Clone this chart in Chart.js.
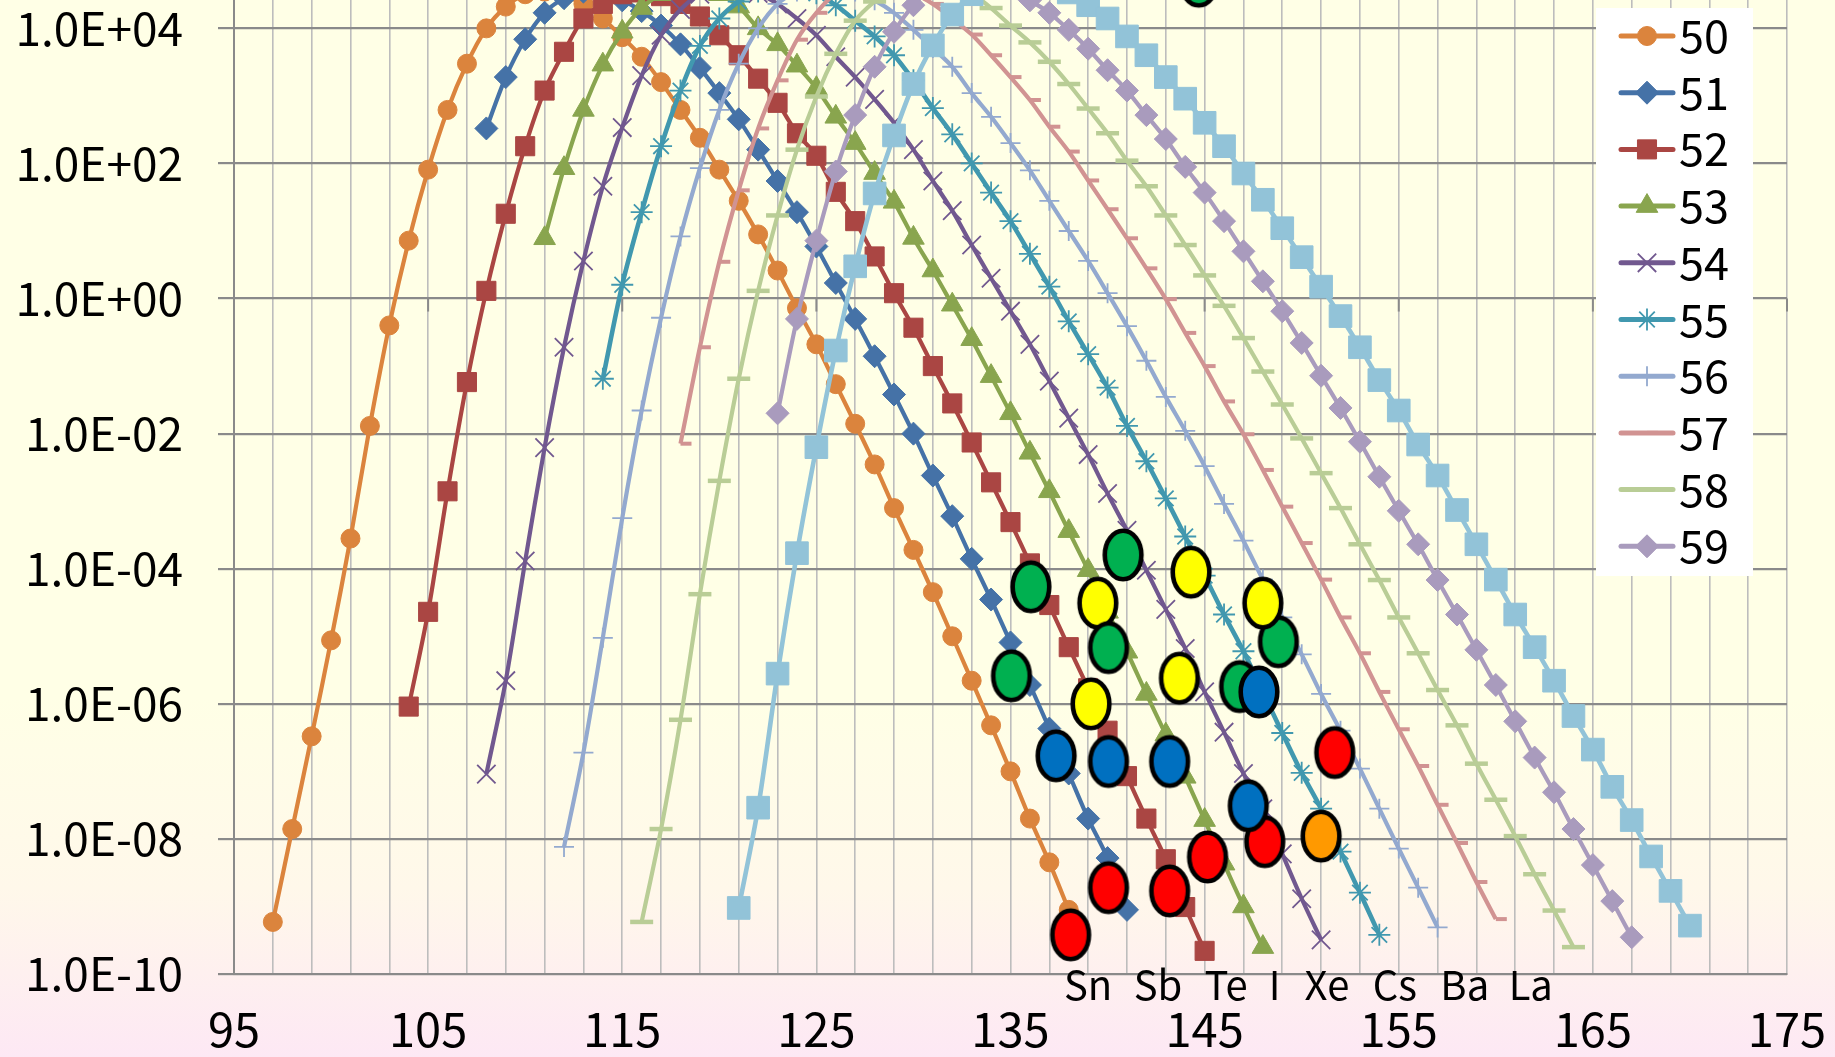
<!DOCTYPE html>
<html>
<head>
<meta charset="utf-8">
<script src="https://cdn.jsdelivr.net/npm/chart.js@4.4.1/dist/chart.umd.min.js"></script>
<style>
  html, body { margin: 0; padding: 0; }
  body {
    width: 1835px; height: 1057px; overflow: hidden;
    background: linear-gradient(to bottom, #ffffe6 0%, #ffffe6 66%, #fff8ea 84%, #fde8f4 100%);
  }
  canvas { display: block; }
</style>
</head>
<body>
<canvas id="yield-chart" width="1835" height="1057"></canvas>
<script>
// series = proton number, x = mass number, y = yield (log scale)
const seriesNames = ['50', '51', '52', '53', '54', '55', '56', '57', '58', '59', '60'];
const firstMass = [97, 108, 104, 111, 108, 114, 112, 118, 116, 123, 121];

const yieldZ50 = [5.9e-10, 1.4e-8, 3.3e-7, 8.7e-6, 2.8e-4, 1.3e-2, 0.40, 7.2, 81, 620, 3.0e3, 1.0e4, 2.1e4, 3.2e4,
  3.5e4, 3.0e4, 2.3e4, 1.4e4, 7.4e3, 3.8e3, 1.6e3, 620, 240, 81, 28, 8.9, 2.6, 0.72, 0.21, 5.4e-2, 1.4e-2, 3.5e-3,
  7.9e-4, 1.9e-4, 4.5e-5, 1.0e-5, 2.2e-6, 4.8e-7, 1.0e-7, 2.0e-8, 4.5e-9, 8.9e-10];
const yieldZ51 = [330, 1.9e3, 6.9e3, 1.7e4, 2.8e4, 3.5e4, 3.3e4, 2.6e4, 1.8e4, 1.1e4, 5.8e3, 2.6e3, 1.1e3, 450, 160,
  55, 19, 5.9, 1.7, 0.50, 0.14, 3.8e-2, 1.0e-2, 2.4e-3, 6.0e-4, 1.4e-4, 3.5e-5, 8.1e-6, 1.9e-6, 4.3e-7, 9.3e-8,
  2.0e-8, 5.2e-9, 8.9e-10];
const yieldZ52 = [9.1e-7, 2.3e-5, 1.4e-3, 5.8e-2, 1.3, 18, 180, 1.2e3, 4.5e3, 1.4e4, 2.3e4, 3.2e4, 3.4e4, 3.0e4, 2.3e4,
  1.5e4, 7.9e3, 4.0e3, 1.8e3, 790, 280, 130, 38, 14, 4.2, 1.2, 0.37, 0.10, 2.8e-2, 7.4e-3, 1.9e-3, 4.9e-4, 1.2e-4,
  2.9e-5, 6.9e-6, 1.7e-6, 4.0e-7, 8.5e-8, 2.0e-8, 5.0e-9, 9.8e-10, 2.2e-10];
const yieldZ53 = [7.8, 85, 620, 2.9e3, 8.9e3, 2.0e4, 3.2e4, 3.8e4, 3.8e4, 3.2e4, 2.1e4, 1.0e4, 5.8e3, 2.8e3, 1.3e3,
  490, 200, 72, 27, 7.9, 2.6, 0.81, 0.25, 7.1e-2, 2.0e-2, 5.2e-3, 1.4e-3, 3.6e-4, 9.5e-5, 2.3e-5, 5.9e-6, 1.4e-6,
  3.5e-7, 8.3e-8, 1.9e-8, 4.3e-9, 1.0e-9, 2.5e-10];
const yieldZ54 = [9.1e-8, 2.2e-6, 1.3e-4, 6.2e-3, 0.19, 3.6, 46, 340, 2.0e3, 7.9e3, 1.9e4, 3.2e4, 4.0e4, 4.2e4, 3.3e4,
  2.3e4, 1.4e4, 7.9e3, 3.8e3, 1.9e3, 890, 400, 160, 55, 20, 6.2, 2.0, 0.65, 0.21, 6.0e-2, 1.7e-2, 4.9e-3, 1.3e-3,
  3.7e-4, 9.5e-5, 2.5e-5, 6.6e-6, 1.5e-6, 3.8e-7, 9.3e-8, 2.8e-8, 6.0e-9, 1.3e-9, 3.2e-10];
const yieldZ55 = [6.5e-2, 1.6, 19, 180, 1.2e3, 5.5e3, 1.4e4, 2.5e4, 3.5e4, 4.2e4, 4.2e4, 3.3e4, 2.2e4, 1.3e4, 7.6e3,
  4.0e3, 1.7e3, 660, 270, 100, 37, 14, 4.6, 1.5, 0.46, 0.15, 4.8e-2, 1.3e-2, 3.9e-3, 1.1e-3, 3.0e-4, 7.9e-5, 2.1e-5,
  6.0e-6, 1.5e-6, 3.7e-7, 9.5e-8, 2.8e-8, 6.5e-9, 1.6e-9, 3.8e-10];
const yieldZ56 = [7.6e-9, 1.9e-7, 9.5e-6, 5.6e-4, 2.2e-2, 0.52, 8.3, 85, 620, 3.0e3, 1.0e4, 2.3e4, 3.5e4, 4.2e4, 4.2e4,
  3.5e4, 2.6e4, 1.7e4, 9.5e3, 5.1e3, 2.7e3, 1.1e3, 490, 200, 79, 28, 10, 3.6, 1.2, 0.39, 0.12, 3.5e-2, 1.1e-2, 3.3e-3,
  9.1e-4, 2.6e-4, 6.9e-5, 1.9e-5, 5.4e-6, 1.4e-6, 4.0e-7, 1.1e-7, 2.8e-8, 7.2e-9, 1.9e-9, 4.9e-10];
const yieldZ57 = [7.1e-3, 0.19, 3.5, 40, 330, 1.7e3, 6.8e3, 1.7e4, 3.3e4, 4.4e4, 4.7e4, 4.2e4, 3.3e4, 2.3e4, 1.4e4,
  8.1e3, 4.0e3, 1.9e3, 870, 350, 150, 56, 21, 7.8, 2.8, 0.98, 0.31, 0.10, 3.0e-2, 9.8e-3, 2.9e-3, 8.3e-4, 2.4e-4,
  6.9e-5, 1.9e-5, 5.6e-6, 1.5e-6, 4.2e-7, 1.2e-7, 3.2e-8, 8.7e-9, 2.3e-9, 6.5e-10];
const yieldZ58 = [5.9e-10, 1.4e-8, 5.8e-7, 4.2e-5, 2.0e-3, 6.5e-2, 1.3, 17, 160, 980, 4.2e3, 1.3e4, 2.5e4, 4.0e4, 5.0e4,
  5.2e4, 4.6e4, 3.3e4, 2.0e4, 1.1e4, 6.2e3, 3.2e3, 1.5e3, 650, 280, 110, 46, 17, 6.2, 2.2, 0.78, 0.26, 8.3e-2, 2.7e-2,
  8.5e-3, 2.6e-3, 7.9e-4, 2.3e-4, 6.8e-5, 1.9e-5, 5.6e-6, 1.6e-6, 4.8e-7, 1.3e-7, 3.8e-8, 1.1e-8, 3.0e-9, 8.7e-10,
  2.5e-10];
const yieldZ59 = [2.0e-2, 0.50, 7.2, 76, 520, 2.7e3, 8.9e3, 2.2e4, 4.0e4, 5.2e4, 5.8e4, 5.2e4, 4.0e4, 2.6e4, 1.7e4,
  9.5e3, 5.0e3, 2.4e3, 1.2e3, 520, 230, 89, 37, 14, 5.0, 1.8, 0.65, 0.22, 7.2e-2, 2.4e-2, 7.6e-3, 2.3e-3, 7.2e-4,
  2.3e-4, 6.8e-5, 2.1e-5, 6.3e-6, 1.9e-6, 5.5e-7, 1.6e-7, 4.9e-8, 1.4e-8, 4.1e-9, 1.2e-9, 3.5e-10];
const yieldZ60 = [9.5e-10, 2.9e-8, 2.8e-6, 1.7e-4, 6.3e-3, 0.17, 3.0, 36, 260, 1.5e3, 5.6e3, 1.6e4, 3.2e4, 5.0e4, 6.3e4,
  6.3e4, 5.0e4, 3.4e4, 2.2e4, 1.4e4, 7.6e3, 4.0e3, 1.9e3, 910, 400, 180, 71, 29, 11, 4.1, 1.5, 0.55, 0.19, 6.2e-2,
  2.2e-2, 6.9e-3, 2.4e-3, 7.4e-4, 2.3e-4, 6.9e-5, 2.1e-5, 6.9e-6, 2.2e-6, 6.6e-7, 2.1e-7, 5.9e-8, 1.9e-8, 5.5e-9,
  1.7e-9, 5.2e-10];

// coloured ellipse marks, in drawing order
const markMass  = [144.7, 140.8, 136.05, 135.05, 144.3, 139.5, 140.05, 148.8, 148.0, 146.8, 147.8, 143.7, 139.15,
  137.35, 140.05, 143.2, 148.1, 147.25, 138.1, 140.05, 143.2, 145.15, 151.7, 151.0];
const markYield = [5.0e4, 1.6e-4, 5.4e-5, 2.6e-6, 8.9e-5, 3.1e-5, 6.8e-6, 8.3e-6, 3.1e-5, 1.8e-6, 1.5e-6, 2.4e-6, 1.0e-6,
  1.7e-7, 1.4e-7, 1.4e-7, 9.1e-9, 3.1e-8, 3.8e-10, 1.9e-9, 1.7e-9, 5.4e-9, 1.9e-7, 1.1e-8];
const markColor = ['green', 'green', 'green', 'green', 'yellow', 'yellow', 'green', 'green', 'yellow', 'green', 'blue',
  'yellow', 'yellow', 'blue', 'blue', 'blue', 'red', 'blue', 'red', 'red', 'red', 'red', 'red', 'orange'];

const elementNames = ['Sn', 'Sb', 'Te', 'I', 'Xe', 'Cs', 'Ba', 'La'];
const elementMass = [139, 142.6, 146.1, 148.6, 151.3, 154.8, 158.4, 161.8];

const xLabels = [95, 105, 115, 125, 135, 145, 155, 165, 175];
const yTicks = [1e-10, 1e-8, 1e-6, 1e-4, 1e-2, 1, 1e2, 1e4];
const yTickLabels = ['1.0E-10', '1.0E-08', '1.0E-06', '1.0E-04', '1.0E-02', '1.0E+00', '1.0E+02', '1.0E+04'];

const allYields = [yieldZ50, yieldZ51, yieldZ52, yieldZ53, yieldZ54, yieldZ55, yieldZ56, yieldZ57, yieldZ58, yieldZ59, yieldZ60];

const colors = ['#db843d', '#4572a7', '#aa4643', '#89a54e', '#71588f', '#4198af', '#93a9cf', '#d19392', '#b9cd96', '#a99bbd', '#92c3d8'];
const styles = ['circle', 'rectRot', 'rect', 'triangle', 'crossRot', 'star', 'cross', 'dash', 'line', 'rectRot', 'rect'];
const radii = [9.5, 11.5, 13.5, 12.5, 13, 11, 10, 11, 11.5, 11.5, 16];
const markerLine = [1, 1, 1, 1, 1.8, 1.8, 1.8, 4, 4.5, 1, 1];
const lineWidths = [4.2, 4.2, 4.2, 4.2, 4.2, 4.6, 4.2, 4.2, 4.2, 4.2, 4.6];

const markFill = { green: '#00b050', yellow: '#ffff00', blue: '#0070c0', red: '#ff0000', orange: '#ff9900' };

const makeEllipse = fill => {
    const c = document.createElement('canvas');
    c.width = 46;
    c.height = 58;
    const g = c.getContext('2d');
    g.beginPath();
    g.ellipse(23, 29, 18.3, 24.3, 0, 0, Math.PI * 2);
    g.fillStyle = fill;
    g.fill();
    g.lineWidth = 4.6;
    g.strokeStyle = '#000';
    g.stroke();
    return c;
};
const ellipses = {};
Object.keys(markFill).forEach(k => ellipses[k] = makeEllipse(markFill[k]));

const datasets = allYields.map((arr, i) => ({
    label: seriesNames[i],
    data: arr.map((v, k) => ({ x: firstMass[i] + k, y: v })),
    borderColor: colors[i],
    backgroundColor: colors[i],
    borderWidth: lineWidths[i],
    pointStyle: styles[i],
    pointRadius: radii[i],
    pointBackgroundColor: colors[i],
    pointBorderColor: colors[i],
    pointBorderWidth: markerLine[i],
    tension: 0.3,
    order: 20 - i
}));

datasets.push({
    label: 'marks',
    data: markMass.map((m, k) => ({ x: m, y: markYield[k] })),
    showLine: false,
    pointStyle: markColor.map(c => ellipses[c]),
    pointRadius: 27,
    pointBorderWidth: 0,
    order: 0
});

// white legend box sitting inside the plot, top right
const boxLegend = {
    id: 'boxLegend',
    afterDatasetsDraw(chart, args, o) {
        const ctx = chart.ctx;
        ctx.save();
        ctx.fillStyle = '#ffffff';
        ctx.fillRect(o.left, o.top, o.width, o.height);
        chart.data.datasets.slice(0, o.count).forEach((ds, i) => {
            const y = o.top + o.firstRow + i * o.rowGap;
            ctx.strokeStyle = ds.borderColor;
            ctx.lineWidth = 5;
            ctx.lineCap = 'round';
            ctx.beginPath();
            ctx.moveTo(o.left + o.lineFrom, y);
            ctx.lineTo(o.left + o.lineTo, y);
            ctx.stroke();
            ctx.lineCap = 'butt';
            ctx.fillStyle = ds.pointBackgroundColor;
            ctx.strokeStyle = ds.pointBorderColor;
            ctx.lineWidth = ds.pointBorderWidth;
            Chart.helpers.drawPoint(ctx, {
                pointStyle: ds.pointStyle, radius: ds.pointRadius,
                borderWidth: ds.pointBorderWidth, rotation: 0
            }, o.left + (o.lineFrom + o.lineTo) / 2, y);
            ctx.fillStyle = '#000';
            ctx.font = o.font;
            ctx.textAlign = 'left';
            ctx.textBaseline = 'middle';
            ctx.fillText(ds.label, o.left + o.textX, y);
        });
        ctx.restore();
    }
};

// element symbols along the bottom + axis ticks where the x axis crosses y = 1
const extras = {
    id: 'extras',
    beforeDatasetsDraw(chart) {
        const { ctx, scales: { x, y } } = chart;
        const y1 = y.getPixelForValue(1);
        ctx.save();
        ctx.strokeStyle = '#8a8a8a';
        ctx.lineWidth = 2;
        xLabels.forEach(v => {
            const px = x.getPixelForValue(v);
            ctx.beginPath();
            ctx.moveTo(px, y1);
            ctx.lineTo(px, y1 + 13);
            ctx.stroke();
        });
        ctx.restore();
    },
    afterDraw(chart) {
        const { ctx, chartArea, scales: { x } } = chart;
        ctx.save();
        ctx.fillStyle = '#000';
        ctx.font = '40px "Noto Sans CJK JP"';
        ctx.textAlign = 'center';
        ctx.textBaseline = 'middle';
        elementNames.forEach((n, i) => ctx.fillText(n, x.getPixelForValue(elementMass[i]), chartArea.bottom + 11));
        ctx.restore();
    }
};

Chart.defaults.font.family = '"Noto Sans CJK JP", "Noto Sans", sans-serif';
Chart.defaults.color = '#000';

new Chart(document.getElementById('yield-chart'), {
    type: 'line',
    data: { datasets },
    plugins: [extras, boxLegend],
    options: {
        responsive: false,
        animation: false,
        devicePixelRatio: 1,
        events: [],
        layout: { autoPadding: false, padding: { left: 0, right: 48, top: 0, bottom: 0 } },
        plugins: {
            legend: { display: false },
            tooltip: { enabled: false },
            boxLegend: {
                left: 1596, top: 8, width: 157, height: 568, count: 10,
                firstRow: 28, rowGap: 56.7, lineFrom: 25, lineTo: 77, textX: 83,
                font: '45px "Noto Sans CJK JP"'
            }
        },
        scales: {
            x: {
                type: 'linear',
                min: 95,
                max: 175,
                afterBuildTicks: s => {
                    const t = [];
                    for (let v = 95; v <= 175; v += 2) t.push({ value: v });
                    s.ticks = t;
                },
                afterFit: s => { s.height = 83; s.paddingLeft = 0; s.paddingRight = 0; },
                ticks: {
                    autoSkip: false,
                    maxRotation: 0,
                    minRotation: 0,
                    padding: 27,
                    font: { size: 47 },
                    callback: v => xLabels.includes(v) ? String(v) : ''
                },
                grid: { color: '#bdbdbd', lineWidth: 1.6, drawTicks: false },
                border: { color: '#8a8a8a', width: 2 }
            },
            y: {
                type: 'logarithmic',
                min: 1e-10,
                max: 2.63e4,
                afterBuildTicks: s => { s.ticks = yTicks.map(v => ({ value: v })); },
                afterFit: s => { s.width = 234; s.paddingTop = 0; s.paddingBottom = 0; },
                ticks: {
                    padding: 35,
                    font: { size: 46 },
                    callback: (v, i) => yTickLabels[i]
                },
                grid: { color: '#8a8a8a', lineWidth: 2.2, tickLength: 16 },
                border: { color: '#8a8a8a', width: 2 }
            }
        }
    }
});
</script>
</body>
</html>
